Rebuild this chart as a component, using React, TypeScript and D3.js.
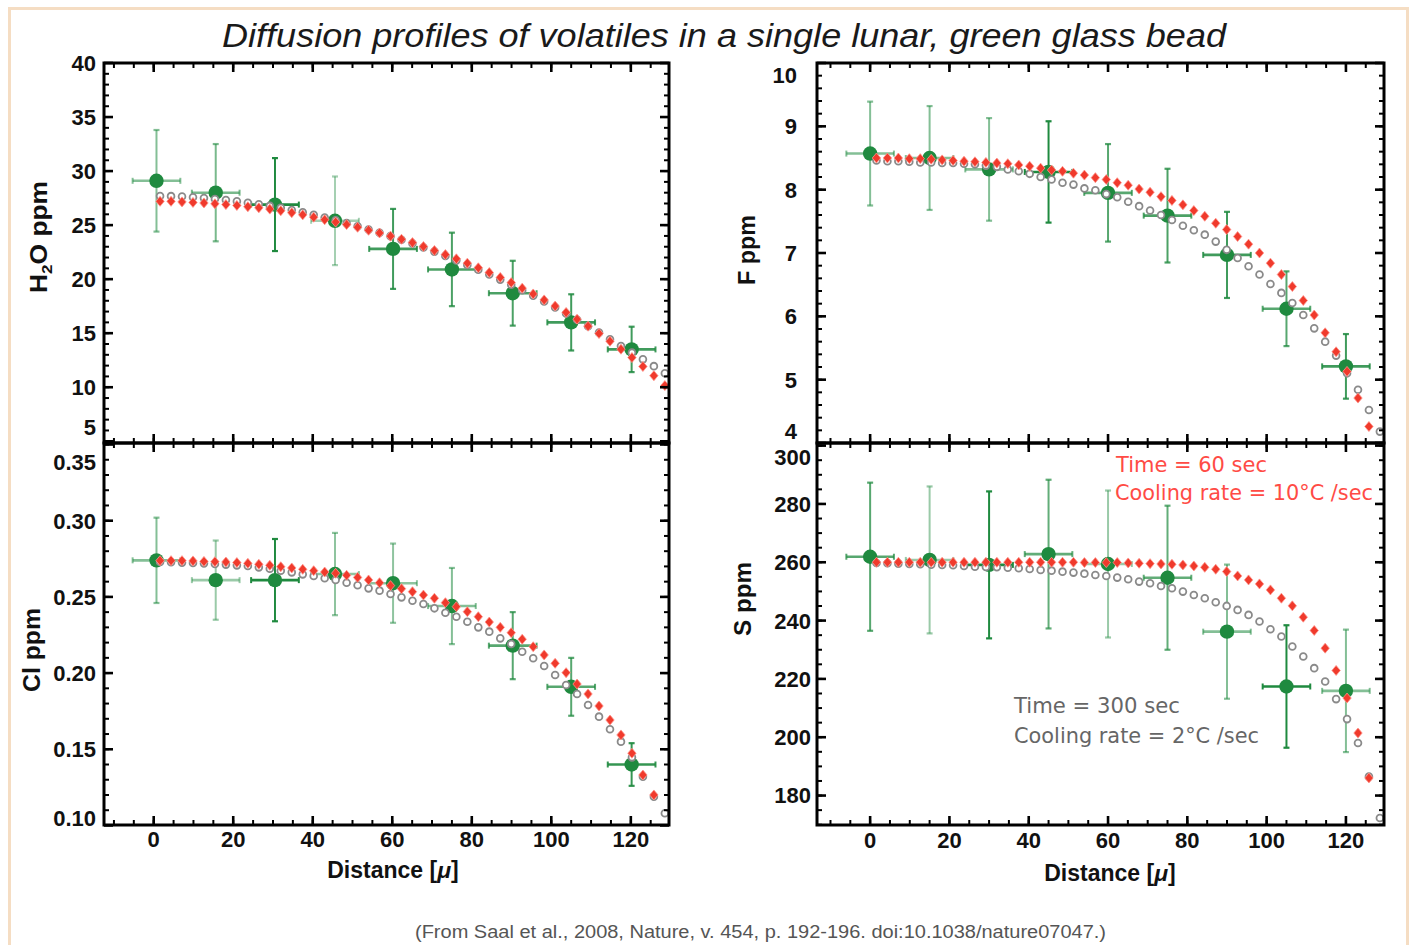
import React from 'react';
import * as d3 from 'd3';

// ---------------- DATA ----------------
// model grid (distance, µm) shared by the two diffusion-model curves
const modelDist = [1.6, 4.36, 7.12, 9.88, 12.64, 15.4, 18.16, 20.92, 23.68, 26.44, 29.2, 31.96, 34.72, 37.48, 40.24, 43.0, 45.76, 48.52, 51.28, 54.04, 56.8, 59.56, 62.32, 65.08, 67.84, 70.6, 73.36, 76.12, 78.88, 81.64, 84.4, 87.16, 89.92, 92.68, 95.44, 98.2, 100.96, 103.72, 106.48, 109.24, 112.0, 114.76, 117.52, 120.28, 123.04, 125.8, 128.56];

// measured distances of the analyses
const distLeft = [0.7, 15.6, 30.5, 45.6, 60.2, 75, 90.3, 105, 120.2];
const distRight = [0, 15, 30, 45, 60, 75, 90, 105, 120];
const distErr = [6, 6, 6, 6, 6, 6, 6, 6, 6];

// H2O (ppm)
const h2oVals = [29.1, 28.0, 26.9, 25.4, 22.8, 20.9, 18.7, 16.0, 13.5];
const h2oErr = [4.7, 4.5, 4.3, 4.1, 3.7, 3.4, 3.0, 2.6, 2.1];
const h2oModel60 = [27.2, 27.2, 27.15, 27.1, 27.05, 26.97, 26.9, 26.82, 26.7, 26.6, 26.48, 26.33, 26.15, 25.95, 25.73, 25.5, 25.28, 25.05, 24.8, 24.52, 24.27, 23.98, 23.69, 23.38, 23.02, 22.65, 22.27, 21.88, 21.48, 21.05, 20.61, 20.16, 19.68, 19.17, 18.63, 18.08, 17.51, 16.92, 16.3, 15.65, 14.97, 14.26, 13.52, 12.74, 11.92, 11.07, 10.15];
const h2oModel300 = [27.7, 27.68, 27.64, 27.58, 27.5, 27.42, 27.32, 27.2, 27.07, 26.93, 26.78, 26.6, 26.4, 26.18, 25.95, 25.7, 25.45, 25.18, 24.9, 24.6, 24.3, 23.98, 23.65, 23.3, 22.93, 22.55, 22.15, 21.74, 21.32, 20.88, 20.43, 19.96, 19.48, 18.98, 18.46, 17.93, 17.38, 16.82, 16.24, 15.65, 15.05, 14.44, 13.82, 13.2, 12.58, 11.95, 11.3];
const h2oTicks = [5, 10, 15, 20, 25, 30, 35, 40];

// F (ppm)
const fVals = [8.57, 8.5, 8.32, 8.28, 7.95, 7.59, 6.97, 6.12, 5.21];
const fErr = [0.82, 0.82, 0.81, 0.8, 0.77, 0.74, 0.68, 0.59, 0.51];
const fModel60 = [8.5, 8.5, 8.5, 8.49, 8.49, 8.48, 8.47, 8.46, 8.45, 8.44, 8.43, 8.42, 8.41, 8.39, 8.37, 8.34, 8.31, 8.29, 8.26, 8.23, 8.19, 8.16, 8.11, 8.07, 8.01, 7.96, 7.89, 7.83, 7.76, 7.67, 7.58, 7.47, 7.37, 7.26, 7.14, 7.0, 6.84, 6.66, 6.47, 6.25, 6.02, 5.74, 5.44, 5.13, 4.71, 4.26];
const fModel300 = [8.46, 8.45, 8.45, 8.44, 8.43, 8.43, 8.42, 8.42, 8.41, 8.4, 8.38, 8.36, 8.32, 8.29, 8.25, 8.2, 8.16, 8.11, 8.08, 8.02, 7.99, 7.93, 7.88, 7.81, 7.74, 7.67, 7.6, 7.52, 7.43, 7.36, 7.29, 7.18, 7.05, 6.92, 6.79, 6.66, 6.51, 6.37, 6.21, 6.02, 5.81, 5.6, 5.38, 5.1, 4.84, 4.52, 4.18];
const fTicks = [4, 5, 6, 7, 8, 9, 10];

// Cl (ppm)
const clVals = [0.274, 0.261, 0.261, 0.265, 0.259, 0.244, 0.218, 0.191, 0.14];
const clErr = [0.028, 0.026, 0.027, 0.027, 0.026, 0.025, 0.022, 0.019, 0.014];
const clModel60 = [0.2738, 0.2738, 0.2738, 0.2736, 0.2733, 0.2731, 0.2729, 0.2725, 0.272, 0.2714, 0.2707, 0.2698, 0.269, 0.2681, 0.2672, 0.2663, 0.2655, 0.2642, 0.2628, 0.2611, 0.2593, 0.2574, 0.2554, 0.2534, 0.2512, 0.2491, 0.2462, 0.2436, 0.2403, 0.237, 0.2335, 0.23, 0.2265, 0.2222, 0.2173, 0.2119, 0.2064, 0.2003, 0.1928, 0.1863, 0.1784, 0.1692, 0.1594, 0.1474, 0.1331, 0.12];
const clModel300 = [0.2729, 0.2727, 0.2725, 0.2722, 0.272, 0.2716, 0.2712, 0.2707, 0.2703, 0.2694, 0.2685, 0.2672, 0.2661, 0.2648, 0.2637, 0.2622, 0.2611, 0.2593, 0.2576, 0.2556, 0.2541, 0.2519, 0.2497, 0.2475, 0.2453, 0.2425, 0.2396, 0.237, 0.2337, 0.23, 0.2272, 0.2228, 0.2191, 0.214, 0.2097, 0.2046, 0.1987, 0.1922, 0.1863, 0.1791, 0.1714, 0.1631, 0.155, 0.1447, 0.132, 0.1189, 0.108];
const clTicks = [0.1, 0.15, 0.2, 0.25, 0.3, 0.35];

// S (ppm)
const sVals = [261.9, 260.8, 259.1, 262.8, 259.4, 254.7, 236.2, 217.4, 215.9];
const sErr = [25.4, 25.2, 25.2, 25.5, 25.2, 24.7, 23, 21, 21];
const sModel60 = [260, 260, 260, 260, 260, 260, 260, 260, 260, 260, 260, 260, 260, 260, 260, 260, 260, 260, 260, 259.9, 259.9, 259.9, 259.9, 259.76, 259.65, 259.53, 259.42, 259.3, 259.08, 258.73, 258.28, 257.6, 256.8, 255.32, 253.95, 252.58, 250.53, 247.68, 245.05, 241.17, 236.6, 230.55, 222.9, 213.43, 201.44, 186.03];
const sModel300 = [259.76, 259.65, 259.53, 259.42, 259.3, 259.19, 259.08, 258.96, 258.73, 258.5, 258.39, 258.28, 258.16, 257.93, 257.7, 257.36, 257.13, 256.79, 256.45, 256.1, 255.65, 255.31, 254.74, 254.17, 253.37, 252.8, 251.88, 251.09, 249.94, 248.8, 247.66, 246.29, 245.03, 243.66, 241.95, 239.67, 237.04, 234.53, 231.1, 227.68, 223.69, 219.12, 213.07, 206.22, 198.0, 186.5, 172.3];
const sTicks = [180, 200, 220, 240, 260, 280, 300];

const distTicks = [0, 20, 40, 60, 80, 100, 120];

const titleText = 'Diffusion profiles of volatiles in a single lunar, green glass bead';
const captionText = '(From Saal et al., 2008, Nature, v. 454, p. 192-196. doi:10.1038/nature07047.)';

// ---------------- STYLE ----------------
const FONT = "'Liberation Sans', Arial, Helvetica, sans-serif";
const LEG_FONT = "'DejaVu Sans', 'Noto Sans', sans-serif";
const GREEN = '#1f8a3f';
const RED = '#f03a2c';

// error-bar intensity per analysis (visual shade in the original)
const shadeH2O = [0.55, 0.6, 1, 0.4, 0.85, 0.8, 0.8, 0.85, 0.85];
const shadeF = [0.55, 0.55, 0.55, 1, 0.75, 0.8, 0.85, 0.75, 0.85];
const shadeCl = [0.55, 0.45, 1, 0.5, 0.5, 0.55, 0.75, 0.75, 0.9];
const shadeS = [0.75, 0.45, 1, 0.7, 0.45, 0.7, 0.55, 1, 0.55];

type PanelProps = {
  id: string;
  left: number; right: number; top: number; bottom: number;
  xDomain: [number, number];
  yDomain: [number, number];
  yTicks: number[];
  yMinorStep: number;
  yFmt: (v: number) => string;
  labelRight: number;
  labelMin: number;
  labelMax: number;
  showX: boolean;
  xLabelBase: number;
  xTitleX: number;
  xTitleBase: number;
  dist: number[];
  vals: number[];
  errs: number[];
  shades: number[];
  m60: number[];
  m300: number[];
  yTitle: React.ReactNode;
};

function Panel(p: PanelProps) {
  const x = d3.scaleLinear().domain(p.xDomain).range([p.left, p.right]);
  const y = d3.scaleLinear().domain(p.yDomain).range([p.bottom, p.top]);
  const xMinor = d3.range(-10, 130, 5).filter((v) => v > p.xDomain[0] && v < p.xDomain[1]);
  const yMin = p.yDomain[0], yMax = p.yDomain[1];
  const yMinor = d3.range(Math.ceil(yMin / p.yMinorStep - 1e-6) * p.yMinorStep, yMax + 1e-9, p.yMinorStep)
    .filter((v) => v >= yMin - 1e-9 && v <= yMax + 1e-9);
  const maj = 9, mnr = 5;
  const tickLines: React.ReactNode[] = [];
  xMinor.forEach((v, i) => {
    const X = x(v);
    tickLines.push(<line key={'xb' + i} x1={X} x2={X} y1={p.bottom} y2={p.bottom - mnr} strokeWidth={2} />);
    tickLines.push(<line key={'xt' + i} x1={X} x2={X} y1={p.top} y2={p.top + mnr} strokeWidth={2} />);
  });
  distTicks.forEach((v, i) => {
    const X = x(v);
    tickLines.push(<line key={'xB' + i} x1={X} x2={X} y1={p.bottom} y2={p.bottom - maj} strokeWidth={2.6} />);
    tickLines.push(<line key={'xT' + i} x1={X} x2={X} y1={p.top} y2={p.top + maj} strokeWidth={2.6} />);
  });
  yMinor.forEach((v, i) => {
    const Y = y(v);
    tickLines.push(<line key={'yl' + i} x1={p.left} x2={p.left + mnr} y1={Y} y2={Y} strokeWidth={2} />);
    tickLines.push(<line key={'yr' + i} x1={p.right} x2={p.right - mnr} y1={Y} y2={Y} strokeWidth={2} />);
  });
  p.yTicks.forEach((v, i) => {
    const Y = y(v);
    tickLines.push(<line key={'yL' + i} x1={p.left} x2={p.left + maj} y1={Y} y2={Y} strokeWidth={2.6} />);
    tickLines.push(<line key={'yR' + i} x1={p.right} x2={p.right - maj} y1={Y} y2={Y} strokeWidth={2.6} />);
  });

  const diamond = 'M0,-5L4.2,0L0,5L-4.2,0Z';

  return (
    <g>
      <defs>
        <clipPath id={'clip-' + p.id}>
          <rect x={p.left} y={p.top} width={p.right - p.left} height={p.bottom - p.top} />
        </clipPath>
      </defs>
      <g clipPath={`url(#clip-${p.id})`}>
        {/* error bars */}
        {p.vals.map((v, i) => {
          const cx = x(p.dist[i]);
          const cy = y(v);
          const ya = y(v + p.errs[i]);
          const yb = y(v - p.errs[i]);
          const xa = x(p.dist[i] - distErr[i]);
          const xb = x(p.dist[i] + distErr[i]);
          return (
            <g key={'e' + i} stroke={GREEN} strokeOpacity={p.shades[i]} fill="none">
              <line x1={cx} x2={cx} y1={ya} y2={yb} strokeWidth={2} />
              <line x1={cx - 3} x2={cx + 3} y1={ya} y2={ya} strokeWidth={2.2} />
              <line x1={cx - 3} x2={cx + 3} y1={yb} y2={yb} strokeWidth={2.2} />
              <line x1={xa} x2={xb} y1={cy} y2={cy} strokeWidth={2.6} />
              <line x1={xa} x2={xa} y1={cy - 3} y2={cy + 3} strokeWidth={2} />
              <line x1={xb} x2={xb} y1={cy - 3} y2={cy + 3} strokeWidth={2} />
            </g>
          );
        })}
        {p.vals.map((v, i) => (
          <circle key={'d' + i} cx={x(p.dist[i])} cy={y(v)} r={7.2} fill={GREEN} />
        ))}
        {p.m300.map((v, i) => (
          <circle key={'g' + i} cx={x(modelDist[i])} cy={y(v)} r={3.4} fill="#fff" stroke="#8a8a8a" strokeWidth={1.8} />
        ))}
        {p.m60.map((v, i) => (
          <path key={'r' + i} d={diamond} transform={`translate(${x(modelDist[i])},${y(v)})`} fill={RED} stroke="#ff948b" strokeWidth={0.8} />
        ))}
      </g>
      <g stroke="#000">{tickLines}</g>
      <rect x={p.left} y={p.top} width={p.right - p.left} height={p.bottom - p.top} fill="none" stroke="#000" strokeWidth={3} />
      <g fontFamily={FONT} fontWeight="bold" fontSize={22} fill="#111">
        {p.yTicks.map((v, i) => {
          const Y = Math.min(p.labelMax, Math.max(p.labelMin, y(v)));
          return (
            <text key={'yl' + i} x={p.labelRight} y={Y} dy="0.36em" textAnchor="end">{p.yFmt(v)}</text>
          );
        })}
        {p.showX && distTicks.map((v, i) => (
          <text key={'xl' + i} x={x(v)} y={p.xLabelBase} textAnchor="middle">{String(v)}</text>
        ))}
        {p.showX && (
          <text x={p.xTitleX} y={p.xTitleBase} textAnchor="middle" fontSize={23}>
            Distance [<tspan fontStyle="italic">μ</tspan>]
          </text>
        )}
      </g>
      {p.yTitle}
    </g>
  );
}

export default function App() {
  const W = 1418, H = 945;
  const L = { left: 104, right: 669 };
  const R = { left: 817, right: 1384 };
  const T = { top: 63, bottom: 443 };
  const B = { top: 443, bottom: 825 };
  const xDomL: [number, number] = [-12.5, 129.6];
  const xDomR: [number, number] = [-13.4, 129.6];
  const fmtInt = (v: number) => d3.format('d')(v);
  const fmt2 = (v: number) => d3.format('.2f')(v);

  const yTitle = (tx: number, ty: number, content: React.ReactNode, len: number) => (
    <text transform={`translate(${tx},${ty}) rotate(-90)`} textAnchor="middle" fontFamily={FONT} fontWeight="bold" fontSize={23} fill="#111" textLength={len} lengthAdjust="spacingAndGlyphs">
      {content}
    </text>
  );

  return (
    <svg width={W} height={H} style={{ position: 'absolute', left: 0, top: 0, background: '#fff' }}>
      <rect x={0} y={0} width={W} height={H} fill="#fff" />
      <rect x={9.5} y={8.5} width={1398} height={980} fill="none" stroke="#f5ddc3" strokeWidth={3} />
      <text x={724} y={47} textAnchor="middle" fontFamily={FONT} fontStyle="italic" fontSize={33} fill="#1a1a1a" textLength={1004} lengthAdjust="spacingAndGlyphs">
        {titleText}
      </text>

      <Panel id="h2o" {...L} {...T} xDomain={xDomL} yDomain={[4.84, 40]} yTicks={h2oTicks} yMinorStep={1} yFmt={fmtInt}
        labelRight={96} labelMin={0} labelMax={427} showX={false} xLabelBase={0} xTitleX={0} xTitleBase={0}
        dist={distLeft} vals={h2oVals} errs={h2oErr} shades={shadeH2O} m60={h2oModel60} m300={h2oModel300}
        yTitle={yTitle(47, 237, <>H<tspan fontSize={15} dy={5}>2</tspan><tspan dy={-5}>O ppm</tspan></>, 112)} />

      <Panel id="cl" {...L} {...B} xDomain={xDomL} yDomain={[0.1003, 0.351]} yTicks={clTicks} yMinorStep={0.01} yFmt={fmt2}
        labelRight={96} labelMin={462} labelMax={818} showX={true} xLabelBase={847} xTitleX={393} xTitleBase={878}
        dist={distLeft} vals={clVals} errs={clErr} shades={shadeCl} m60={clModel60} m300={clModel300}
        yTitle={yTitle(40, 650, 'Cl ppm', 84)} />

      <Panel id="f" {...R} {...T} xDomain={xDomR} yDomain={[4, 10]} yTicks={fTicks} yMinorStep={0.2} yFmt={fmtInt}
        labelRight={797} labelMin={75} labelMax={431} showX={false} xLabelBase={0} xTitleX={0} xTitleBase={0}
        dist={distRight} vals={fVals} errs={fErr} shades={shadeF} m60={fModel60} m300={fModel300}
        yTitle={yTitle(755, 250, 'F ppm', 70)} />

      <Panel id="s" {...R} {...B} xDomain={xDomR} yDomain={[169.9, 300.9]} yTicks={sTicks} yMinorStep={5} yFmt={fmtInt}
        labelRight={811} labelMin={457} labelMax={2000} showX={true} xLabelBase={848} xTitleX={1110} xTitleBase={881}
        dist={distRight} vals={sVals} errs={sErr} shades={shadeS} m60={sModel60} m300={sModel300}
        yTitle={yTitle(751, 599, 'S ppm', 74)} />

      <g fontFamily={LEG_FONT} fontSize={22}>
        <text x={1116} y={472} fill="#ff4b45" textLength={151} lengthAdjust="spacingAndGlyphs">Time = 60 sec</text>
        <text x={1115} y={500} fill="#ff4b45" textLength={258} lengthAdjust="spacingAndGlyphs">Cooling rate = 10°C /sec</text>
        <text x={1014} y={713} fill="#666" textLength={166} lengthAdjust="spacingAndGlyphs">Time = 300 sec</text>
        <text x={1014} y={743} fill="#666" textLength={245} lengthAdjust="spacingAndGlyphs">Cooling rate = 2°C /sec</text>
      </g>

      <text x={760.5} y={938} textAnchor="middle" fontFamily={FONT} fontSize={17.5} fill="#555" textLength={691} lengthAdjust="spacingAndGlyphs">
        {captionText}
      </text>
    </svg>
  );
}
